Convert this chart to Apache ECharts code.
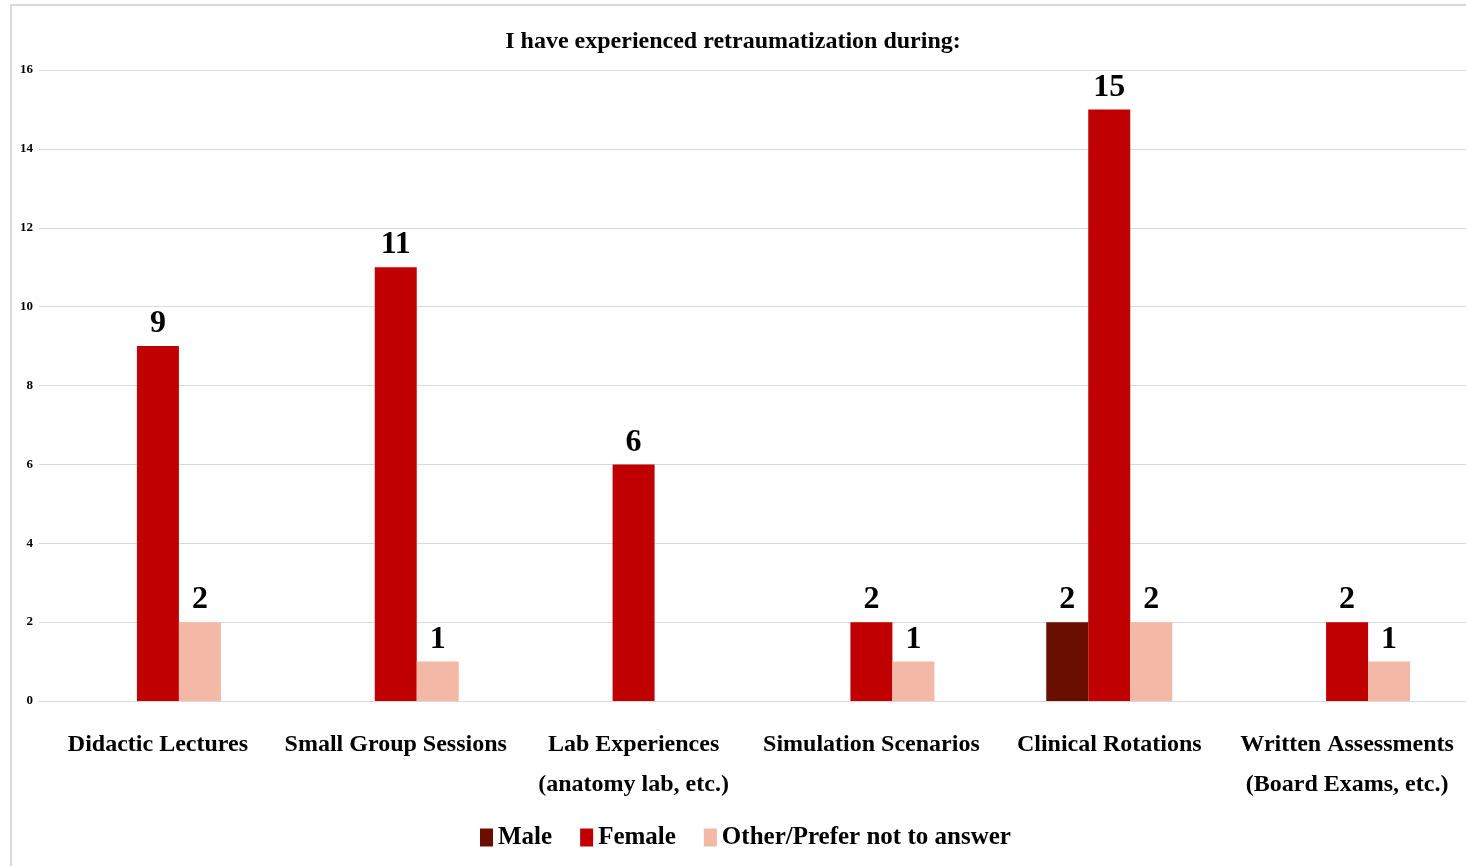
<!DOCTYPE html>
<html>
<head>
<meta charset="utf-8">
<title>Retraumatization</title>
<script src="https://cdn.jsdelivr.net/npm/echarts@6/dist/echarts.min.js"></script>
<style>
  html, body { margin: 0; padding: 0; background: #fff; }
  #chart { width: 1466px; height: 866px; }
</style>
</head>
<body>
<div id="chart"></div>
<script>
// categories and counts
var categories = [
  'Didactic Lectures',
  'Small Group Sessions',
  'Lab Experiences\n(anatomy lab, etc.)',
  'Simulation Scenarios',
  'Clinical Rotations',
  'Written Assessments\n(Board Exams, etc.)'
];
var male = [0, 0, 0, 0, 2, 0];
var female = [9, 11, 6, 2, 15, 2];
var other = [2, 1, 0, 1, 2, 1];
var yTicks = [0, 2, 4, 6, 8, 10, 12, 14, 16];

var serif = '"Liberation Serif", "Times New Roman", serif';

var chart = echarts.init(document.getElementById('chart'));

// hide labels for zero counts
function labelOpt() {
  return {
    show: true,
    position: 'top',
    distance: 6,
    color: '#000',
    fontFamily: serif,
    fontWeight: 'bold',
    fontSize: 32,
    formatter: function (p) {
      return p.value ? p.value : '';
    }
  };
}

function makeSeries(name, data, color) {
  return {
    name: name,
    type: 'bar',
    data: data,
    barWidth: 42,
    barGap: '0%',
    itemStyle: { color: color },
    label: labelOpt()
  };
}

var option = {
  animation: false,
  backgroundColor: '#fff',
  title: {
    text: 'I have experienced retraumatization during:',
    left: 'center',
    top: 25,
    textStyle: {
      fontFamily: serif,
      fontWeight: 'bold',
      fontSize: 24,
      color: '#000'
    }
  },
  legend: {
    left: 475,
    top: 820,
    itemWidth: 13,
    itemHeight: 18,
    itemGap: 28,
    icon: 'rect',
    textStyle: {
      fontFamily: serif,
      fontWeight: 'bold',
      fontSize: 25,
      color: '#000'
    },
    data: ['Male', 'Female', 'Other/Prefer not to answer']
  },
  grid: {
    left: 39,
    right: 0,
    top: 70,
    bottom: 165,
    containLabel: false
  },
  xAxis: {
    type: 'category',
    data: categories,
    axisLine: { lineStyle: { color: '#d9d9d9', width: 1 } },
    axisTick: { show: false },
    axisLabel: {
      interval: 0,
      margin: 24,
      lineHeight: 40,
      color: '#000',
      fontFamily: serif,
      fontWeight: 'bold',
      fontSize: 24
    }
  },
  yAxis: {
    type: 'value',
    min: yTicks[0],
    max: yTicks[yTicks.length - 1],
    interval: 2,
    axisLine: { show: false },
    axisTick: { show: false },
    splitLine: { lineStyle: { color: '#d9d9d9', width: 1 } },
    axisLabel: {
      margin: 6,
      color: '#000',
      fontFamily: serif,
      fontWeight: 'bold',
      fontSize: 13
    }
  },
  graphic: [{
    type: 'rect',
    silent: true,
    shape: { x: 11, y: 5, width: 1470, height: 880 },
    style: { fill: 'none', stroke: '#d9d9d9', lineWidth: 2 }
  }],
  series: [
    makeSeries('Male', male, '#6a0e00'),
    makeSeries('Female', female, '#c00000'),
    makeSeries('Other/Prefer not to answer', other, '#f4b8a6')
  ]
};

chart.setOption(option);
</script>
</body>
</html>
